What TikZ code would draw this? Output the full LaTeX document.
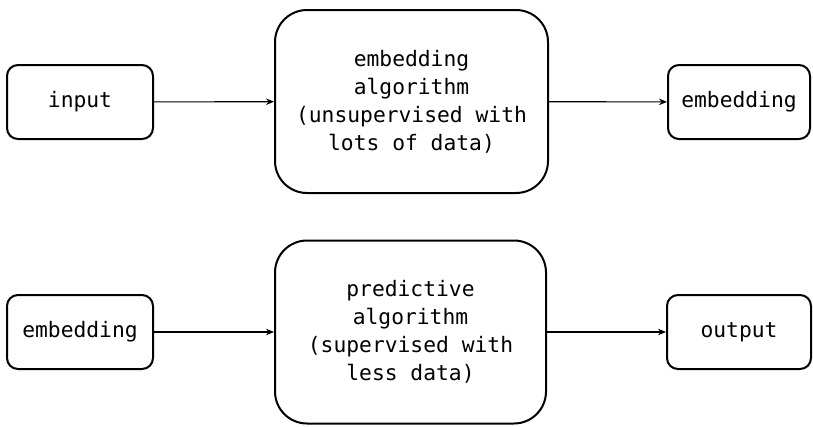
\documentclass[tikz,border=0pt]{standalone}
\usepackage{fontspec}
\newfontfamily\monofam{DejaVu Sans Mono}
\usetikzlibrary{arrows.meta}
\begin{document}
\begin{tikzpicture}[x=1pt,y=-1pt,
  box/.style={draw=black, line width=2pt, rounded corners=11pt, inner sep=0pt, align=center,
    font=\monofam\fontsize{21.3}{28}\selectfont, fill=white},
  bigbox/.style={box, rounded corners=32pt},
  conn/.style={line width=1.1pt, -{Stealth[length=8pt,width=6.5pt]}}
]
\useasboundingbox (0,0) rectangle (813,426);
\node[box, minimum width=146pt, minimum height=74pt] (in) at (80,102) {input};
\node[bigbox, minimum width=273pt, minimum height=183pt] (ea) at (411.5,101.5) {embedding\\algorithm\\(unsupervised with\\lots of data)};
\node[box, minimum width=142pt, minimum height=74pt] (emb) at (739,102) {embedding};
\node[box, minimum width=146pt, minimum height=74pt] (emb2) at (80,332) {embedding};
\node[bigbox, minimum width=271pt, minimum height=183pt] (pa) at (410.5,332) {predictive\\algorithm\\(supervised with\\less data)};
\node[box, minimum width=144pt, minimum height=74pt] (out) at (739,332) {output};
\draw[conn] (in) -- (ea);
\draw[conn] (ea) -- (emb);
\draw[conn] (emb2) -- (pa);
\draw[conn] (pa) -- (out);
\end{tikzpicture}
\end{document}
